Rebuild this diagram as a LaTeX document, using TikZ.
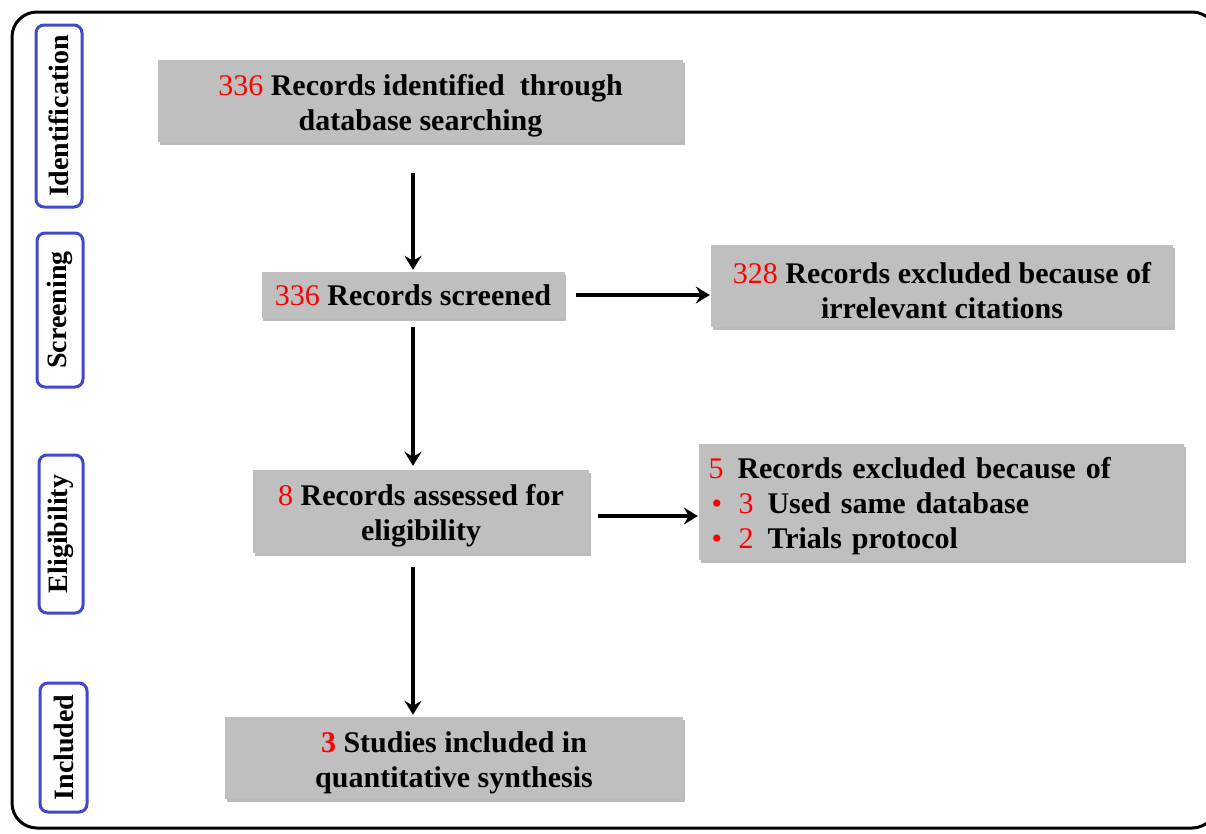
\documentclass[tikz,border=0pt]{standalone}
\usepackage{fontspec}
\setmainfont{Liberation Serif}
\usetikzlibrary{arrows.meta,shadows}
\definecolor{boxgray}{HTML}{BFBFBF}
\definecolor{lblue}{HTML}{4048CC}
\definecolor{nred}{HTML}{FF0000}
\newcommand{\rn}[1]{{\color{nred}\mdseries #1}}
\newcommand{\tallstrut}{\rule{0pt}{30pt}}
\begin{document}
\begin{tikzpicture}[x=1pt,y=-1pt,
  gbox/.style={fill=boxgray, draw=none, inner sep=2pt,
    font=\fontsize{30}{35}\selectfont\bfseries, align=center,
    drop shadow={shadow xshift=1.5pt, shadow yshift=-2.5pt, opacity=0.45, fill=black!60}},
  side/.style={draw=lblue, line width=3pt, rounded corners=8pt, rotate=90,
    font=\fontsize{28}{30}\selectfont\bfseries, inner sep=0pt},
  arr/.style={line width=3.4pt, -{Stealth[length=14pt,width=17pt,inset=5pt]}}
]
\useasboundingbox (0,0) rectangle (1206,833);
\begin{scope}
\clip (0,0) rectangle (1206,833);
\draw[line width=3pt, rounded corners=25pt] (12,12) rectangle (1217,828);
\end{scope}

% side labels
\node[side, minimum width=182pt, minimum height=46pt] (ident) at (59,116) {Identification};
\node[side, minimum width=154pt, minimum height=46pt] (scr) at (60,310) {Screening};
\node[side, minimum width=158pt, minimum height=44pt] (elig) at (61,534) {Eligibility};
\node[side, minimum width=129pt, minimum height=47pt] (incl) at (63.5,747.5) {Included};

% boxes
\node[gbox, minimum width=525pt, minimum height=82pt] (b1) at (420.5,101)
  {\tallstrut\rn{336} Records identified\ \ through\\database searching};
\node[gbox, minimum width=303pt, minimum height=46pt] (b2) at (413,295)
  {\rn{336} Records screened};
\node[gbox, minimum width=462pt, minimum height=82pt] (b3) at (942,286)
  {\tallstrut\rn{328} Records excluded because of\\irrelevant citations};
\node[gbox, minimum width=336pt, minimum height=83pt] (b4) at (421,511.5)
  {\tallstrut\rn{8} Records assessed for\\eligibility};
\node[gbox, minimum width=485pt, minimum height=116pt, align=left, text width=466pt] (b5) at (941.5,502)
  {\tallstrut\rn{5}\hspace{14pt}Records excluded because of\\
   \makebox[30pt][l]{\hspace{3pt}\rn{•}}\rn{3}\hspace{14pt}Used same database\\
   \makebox[30pt][l]{\hspace{3pt}\rn{•}}\rn{2}\hspace{14pt}Trials protocol};
\node[gbox, minimum width=458pt, minimum height=82pt] (b6) at (454,758)
  {\tallstrut{\color{nred}3} Studies included in\\quantitative synthesis};

% arrows
\draw[arr, shorten <=31pt, shorten >=2pt] (b1.south -| b2.north) -- (b2.north);
\draw[arr, shorten <=9pt, shorten >=4pt] (b2.south) -- (b2.south |- b4.north);
\draw[arr, shorten <=14pt, shorten >=2pt] (b2.south |- b4.south) -- (b2.south |- b6.north);
\draw[arr, shorten <=11pt, shorten >=1pt] (b2.east) -- (b2.east -| b3.west);
\draw[arr, shorten <=9pt, shorten >=1pt] ([yshift=-4.5pt]b4.east) -- ([yshift=-4.5pt]b4.east -| b5.west);
\end{tikzpicture}
\end{document}
